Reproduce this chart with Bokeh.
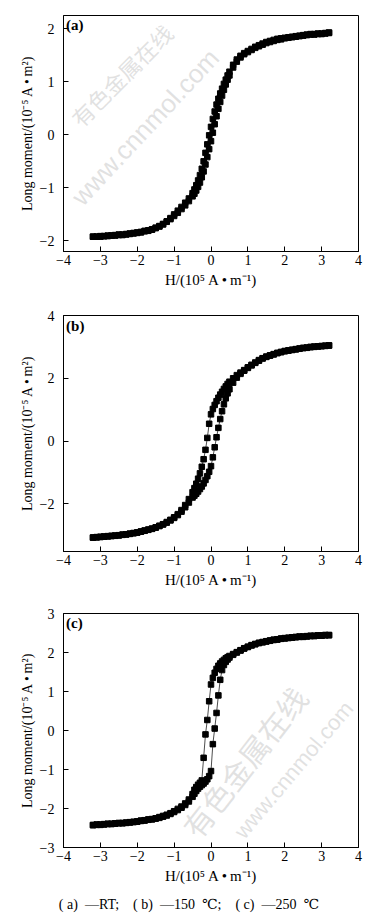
from bokeh.plotting import figure
from bokeh.layouts import column
from bokeh.models import FixedTicker, Range1d, Label, Div
from bokeh.embed import file_html
from bokeh.resources import INLINE

# Field H (10^5 A/m), shared sampling of the measured loops
H = [-3.2, -3.1, -3.0, -2.9, -2.8, -2.7, -2.6, -2.5, -2.4, -2.3, -2.2, -2.1, -2.0, -1.9,
     -1.8, -1.7, -1.6, -1.5, -1.4, -1.3, -1.2, -1.1, -1.0, -0.9, -0.8, -0.7, -0.6, -0.5,
     -0.45, -0.4, -0.35, -0.3, -0.25, -0.2, -0.15, -0.1, -0.05, 0.0, 0.05, 0.1, 0.15, 0.2,
     0.25, 0.3, 0.35, 0.4, 0.45,
     0.5, 0.6, 0.7, 0.8, 0.9, 1.0, 1.1, 1.2, 1.3, 1.4, 1.5, 1.6, 1.7, 1.8, 1.9, 2.0, 2.1,
     2.2, 2.3, 2.4, 2.5, 2.6, 2.7, 2.8, 2.9, 3.0, 3.1, 3.2]

# (a) RT : descending (upper) and ascending (lower) branches
A_DOWN = [-1.92, -1.92, -1.91, -1.91, -1.90, -1.90, -1.89, -1.88, -1.88, -1.87, -1.86, -1.85, -1.84, -1.83,
          -1.81, -1.80, -1.78, -1.75, -1.72, -1.68, -1.63, -1.57, -1.50, -1.43, -1.36, -1.28, -1.20, -1.10,
          -1.03, -0.95, -0.86, -0.76, -0.64, -0.50, -0.34, -0.18, -0.01, 0.15, 0.30, 0.44, 0.57, 0.68,
          0.78, 0.87, 0.96, 1.04, 1.12,
          1.19, 1.32, 1.42, 1.49, 1.54, 1.58, 1.62, 1.66, 1.69, 1.72, 1.75, 1.77, 1.79, 1.81, 1.82, 1.83, 1.84,
          1.85, 1.86, 1.87, 1.88, 1.89, 1.90, 1.90, 1.91, 1.91, 1.92, 1.93]
A_UP = [-1.92, -1.92, -1.92, -1.91, -1.91, -1.90, -1.90, -1.89, -1.89, -1.88, -1.87, -1.86, -1.85, -1.84,
        -1.82, -1.81, -1.79, -1.76, -1.73, -1.69, -1.64, -1.59, -1.53, -1.47, -1.40, -1.33, -1.25, -1.16,
        -1.11, -1.05, -0.98, -0.90, -0.80, -0.69, -0.56, -0.42, -0.27, -0.12, 0.04, 0.20, 0.35, 0.49,
        0.62, 0.74, 0.85, 0.95, 1.04,
        1.12, 1.27, 1.38, 1.46, 1.52, 1.56, 1.60, 1.64, 1.67, 1.70, 1.73, 1.75, 1.77, 1.79, 1.80, 1.82, 1.83,
        1.84, 1.85, 1.86, 1.87, 1.88, 1.89, 1.89, 1.90, 1.90, 1.91, 1.92]

# (b) -150 C
B_DOWN = [-3.07, -3.06, -3.05, -3.04, -3.03, -3.02, -3.01, -3.00, -2.98, -2.97, -2.95, -2.93, -2.91, -2.88,
          -2.85, -2.82, -2.79, -2.75, -2.70, -2.65, -2.58, -2.51, -2.43, -2.33, -2.20, -2.04, -1.85, -1.63,
          -1.50, -1.36, -1.20, -1.03, -0.82, -0.58, -0.28, 0.10, 0.55, 0.85, 1.02, 1.15, 1.27, 1.38,
          1.48, 1.57, 1.66, 1.74, 1.82,
          1.89, 2.00, 2.10, 2.18, 2.26, 2.35, 2.43, 2.50, 2.58, 2.64, 2.69, 2.73, 2.77, 2.81, 2.84, 2.87, 2.89,
          2.91, 2.93, 2.95, 2.97, 2.98, 3.00, 3.01, 3.02, 3.03, 3.04, 3.05]
B_UP = [-3.08, -3.07, -3.06, -3.05, -3.04, -3.03, -3.02, -3.01, -2.99, -2.98, -2.96, -2.94, -2.92, -2.89,
        -2.86, -2.83, -2.80, -2.76, -2.71, -2.66, -2.60, -2.53, -2.45, -2.36, -2.25, -2.11, -1.96, -1.80,
        -1.74, -1.68, -1.61, -1.53, -1.45, -1.35, -1.24, -1.12, -0.98, -0.80, -0.52, -0.20, 0.12, 0.42,
        0.70, 0.95, 1.17, 1.36, 1.52,
        1.65, 1.86, 2.02, 2.14, 2.24, 2.33, 2.41, 2.49, 2.56, 2.63, 2.68, 2.72, 2.76, 2.80, 2.83, 2.86, 2.88,
        2.90, 2.92, 2.94, 2.96, 2.97, 2.99, 3.00, 3.01, 3.02, 3.03, 3.04]

# (c) -250 C
C_DOWN = [-2.42, -2.41, -2.41, -2.40, -2.39, -2.39, -2.38, -2.37, -2.37, -2.36, -2.35, -2.34, -2.33, -2.31,
          -2.30, -2.28, -2.27, -2.25, -2.22, -2.19, -2.16, -2.12, -2.07, -2.01, -1.95, -1.87, -1.77, -1.63,
          -1.52, -1.45, -1.39, -1.34, -1.28, -0.70, -0.10, 0.27, 0.75, 1.18, 1.35, 1.48, 1.58, 1.66,
          1.72, 1.77, 1.81, 1.85, 1.88,
          1.91, 1.96, 2.01, 2.06, 2.11, 2.15, 2.19, 2.22, 2.25, 2.27, 2.29, 2.31, 2.33, 2.34, 2.36, 2.37, 2.38,
          2.39, 2.40, 2.41, 2.41, 2.42, 2.43, 2.43, 2.44, 2.44, 2.45, 2.45]
C_UP = [-2.43, -2.42, -2.42, -2.41, -2.40, -2.40, -2.39, -2.38, -2.38, -2.37, -2.36, -2.35, -2.34, -2.32,
        -2.31, -2.29, -2.28, -2.26, -2.24, -2.21, -2.18, -2.14, -2.09, -2.04, -1.98, -1.91, -1.82, -1.70,
        -1.62, -1.55, -1.49, -1.44, -1.40, -1.36, -1.31, -1.25, -1.17, -1.04, -0.35, 0.05, 0.45, 0.90,
        1.30, 1.55, 1.68, 1.76, 1.82,
        1.87, 1.94, 2.00, 2.05, 2.10, 2.14, 2.18, 2.21, 2.24, 2.26, 2.28, 2.30, 2.32, 2.33, 2.35, 2.36, 2.37,
        2.38, 2.39, 2.40, 2.40, 2.41, 2.42, 2.42, 2.43, 2.43, 2.44, 2.44]

X_TICKS = [-4, -3, -2, -1, 0, 1, 2, 3, 4]
X_TICK_LABELS = ["\u22124", "\u22123", "\u22122", "\u22121", "0", "1", "2", "3", "4"]
A_YTICKS = [-2, -1, 0, 1, 2]
A_YLABELS = ["\u22122", "\u22121", "0", "1", "2"]
B_YTICKS = [-2, 0, 2, 4]
B_YLABELS = ["\u22122", "0", "2", "4"]
C_YTICKS = [-3, -2, -1, 0, 1, 2, 3]
C_YLABELS = ["\u22123", "\u22122", "\u22121", "0", "1", "2", "3"]

X_LABEL = "H/(10\u2075 A\u2009\u2022\u2009m\u207b\u00b9)"
Y_LABEL = "Long moment/(10\u207b\u2075 A\u2009\u2022\u2009m\u00b2)"
CAPTION = ("( a)\u2002\u2014RT;\u2002\u2002( b)\u2002\u2014150\u2002\u2103;"
           "\u2002\u2002( c)\u2002\u2014250\u2002\u2103")

SERIF = "Liberation Serif"


def make_panel(down, up, yr, yticks, ylabels, tag, tag_xy, height, top, bottom):
    p = figure(width=378, height=height, x_range=Range1d(-4, 4), y_range=Range1d(*yr),
               output_backend="svg", toolbar_location=None,
               min_border_left=63, min_border_right=20, min_border_top=top, min_border_bottom=bottom)
    p.grid.visible = False
    p.outline_line_color = "black"
    p.outline_line_width = 1
    p.outline_line_alpha = 1
    p.background_fill_color = "white"
    p.border_fill_color = "white"

    for ax, ticks, labs in ((p.xaxis[0], X_TICKS, X_TICK_LABELS), (p.yaxis[0], yticks, ylabels)):
        ax.ticker = FixedTicker(ticks=ticks)
        ax.major_label_overrides = {t: s for t, s in zip(ticks, labs)}
        ax.major_tick_in = 5
        ax.major_tick_out = 0
        ax.minor_tick_line_color = None
        ax.axis_line_color = "black"
        ax.major_tick_line_color = "black"
        ax.major_label_text_font = SERIF
        ax.major_label_text_font_size = "14px"
        ax.major_label_text_color = "black"
        ax.axis_label_text_font = SERIF
        ax.axis_label_text_font_style = "normal"
        ax.axis_label_text_color = "black"
    p.xaxis[0].axis_label = X_LABEL
    p.yaxis[0].axis_label = Y_LABEL
    p.xaxis[0].axis_label_text_font_size = "15px"
    p.yaxis[0].axis_label_text_font_size = "14px"
    p.xaxis[0].major_label_standoff = 3
    p.xaxis[0].axis_label_standoff = 4
    p.yaxis[0].major_label_standoff = 9
    p.yaxis[0].axis_label_standoff = 2

    p.line(H, down, line_color="black", line_width=0.7)
    p.line(H, up, line_color="black", line_width=0.7)
    p.scatter(H, down, marker="square", size=5.5, fill_color="black", line_color="black")
    p.scatter(H, up, marker="square", size=5.5, fill_color="black", line_color="black")

    p.add_layout(Label(x=tag_xy[0], y=tag_xy[1], text=tag, text_font=SERIF,
                       text_font_size="15px", text_font_style="bold", text_color="black",
                       text_align="left", text_baseline="middle"))
    return p


pa = make_panel(A_DOWN, A_UP, (-2.2, 2.25), A_YTICKS, A_YLABELS, "(a)", (-3.93, 2.08), 300, 15, 49)
pb = make_panel(B_DOWN, B_UP, (-3.52, 4.0), B_YTICKS, B_YLABELS, "(b)", (-3.93, 3.68), 300, 15, 49)
pc = make_panel(C_DOWN, C_UP, (-3.0, 3.0), C_YTICKS, C_YLABELS, "(c)", (-3.93, 2.76), 295, 13, 48)

# watermark of the source page (anchored at the start of each text, kept inside the frames)
WM_CN = "\u6709\u8272\u91d1\u5c5e\u5728\u7ebf"
WM_EN = "www.cnnmol.com"
WM_COLOR = "#c4c4c4"


def watermark(p, x, y, text, font, size, angle):
    p.add_layout(Label(x=x, y=y, text=text, angle=angle, angle_units="deg",
                       text_font=font, text_font_size=size, text_color=WM_COLOR,
                       text_alpha=0.5, text_align="left", text_baseline="middle"))


watermark(pa, -3.70, 0.25, WM_CN, "Noto Sans CJK SC", "22px", 45)
watermark(pa, -3.65, -1.25, WM_EN, "Liberation Sans", "26px", 47)
watermark(pc, -0.60, -2.62, WM_CN, "Noto Sans CJK SC", "30px", 52)
watermark(pc, 0.75, -2.69, WM_EN, "Liberation Sans", "22px", 50)

caption = Div(text=CAPTION, width=378, height=28,
              styles={"font-family": "'Liberation Serif', 'DejaVu Serif', serif", "font-size": "14px",
                      "color": "black", "text-align": "center", "line-height": "20px",
                      "margin": "0", "padding": "0", "white-space": "nowrap"})

layout = column(pa, pb, pc, caption, spacing=0)
open("out.html", "w").write(file_html(layout, INLINE))
